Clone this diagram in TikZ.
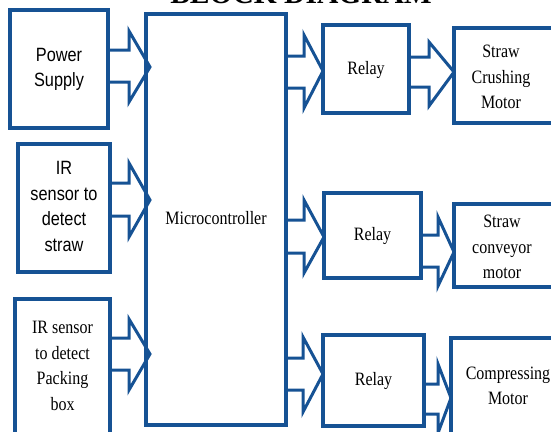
\documentclass[tikz,border=0pt]{standalone}
\usepackage{fontspec}
\usepackage{graphicx}
\setmainfont{Liberation Serif}
\setsansfont{Liberation Sans}
\definecolor{bdblue}{RGB}{22,82,148}
\newcommand\serf{\fontsize{16}{21.6}\rmfamily\selectfont}
\newcommand\sanf{\fontsize{16.3}{21.6}\sffamily\selectfont}
\newcommand\tx[2]{\scalebox{1}[1.18]{#1\begin{tabular}{@{}c@{}}#2\end{tabular}}}
% block arrow: #1 from node, #2 shaft end x, #3 shaft top, #4 shaft bottom,
% #5 head top, #6 head bottom, #7 tip coordinate/node, #8 tip y
\newcommand\barr[8]{\draw[arr] (#1.east |- 0,#3) -- (#2,#3) -- (#2,#5) -- (#7 |- 0,#8) -- (#2,#6) -- (#2,#4) -- (#1.east |- 0,#4);}
\begin{document}
\begin{tikzpicture}[x=1pt,y=-1pt,
  box/.style={draw=bdblue,line width=3.2pt,rectangle,inner sep=0pt,outer sep=0pt,align=center},
  arr/.style={draw=bdblue,line width=3pt,line join=miter},
  txt/.style={inner sep=0pt,outer sep=0pt,align=center}]
\useasboundingbox (0,0) rectangle (551,431);
\clip (0,0) rectangle (551,431);
\node[font=\bfseries\fontsize{29.5}{30}\selectfont,anchor=base] (title) at (301,3) {BLOCK DIAGRAM};
% left column
\node[box,minimum width=98pt,minimum height=118pt] (PS) at (59,69) {\tx{\sanf}{Power\\Supply}};
\node[box,minimum width=92pt,minimum height=128pt] (IR1) at (64,208) {\tx{\sanf}{IR\\sensor to\\detect\\straw}};
\node[box,minimum width=95pt,minimum height=136pt] (IR2) at (62.5,367) {\tx{\serf}{IR sensor\\to detect\\Packing\\box}};
% microcontroller
\node[box,minimum width=140pt,minimum height=411pt] (MC) at (216,219.5) {\tx{\serf}{Microcontroller}};
\coordinate (MCtip) at ([xshift=4pt]MC.west);
% relays
\node[box,minimum width=86pt,minimum height=88pt] (R1) at (366,69) {\tx{\serf}{Relay}};
\node[box,minimum width=97pt,minimum height=85pt] (R2) at (372.5,235.5) {\tx{\serf}{Relay}};
\node[box,minimum width=101pt,minimum height=91pt] (R3) at (373.5,380.5) {\tx{\serf}{Relay}};
% motors (extend beyond right edge)
\node[box,minimum width=106pt,minimum height=95pt] (S1) at (507,75.5) {};
\node[txt] (S1t) at (501,78) {\tx{\serf}{Straw\\Crushing\\Motor}};
\node[box,minimum width=106pt,minimum height=83pt] (S2) at (507,245.5) {};
\node[txt] (S2t) at (502,248) {\tx{\serf}{Straw\\conveyor\\motor}};
\node[box,minimum width=109pt,minimum height=122pt] (S3) at (505.5,399) {};
\node[txt] (S3t) at (508,387) {\tx{\serf}{Compressing\\Motor}};
% block arrows
\barr{PS}{129}{50}{82}{31}{102}{MCtip}{67}
\barr{IR1}{129}{183}{216}{163}{237}{MCtip}{200}
\barr{IR2}{129}{338}{370}{319}{390}{MCtip}{354}
\barr{MC}{304}{56}{88}{35}{108}{R1.west}{71}
\barr{R1}{429}{57}{87}{42}{106}{S1.west}{72}
\barr{MC}{304}{220}{253}{200}{273}{R2.west}{237}
\barr{R2}{438}{235}{267}{217}{286}{S2.west}{252}
\barr{MC}{303}{358}{390}{337}{412}{R3.west}{374}
\barr{R3}{438}{384}{414}{364}{433}{S3.west}{398}
\end{tikzpicture}
\end{document}
